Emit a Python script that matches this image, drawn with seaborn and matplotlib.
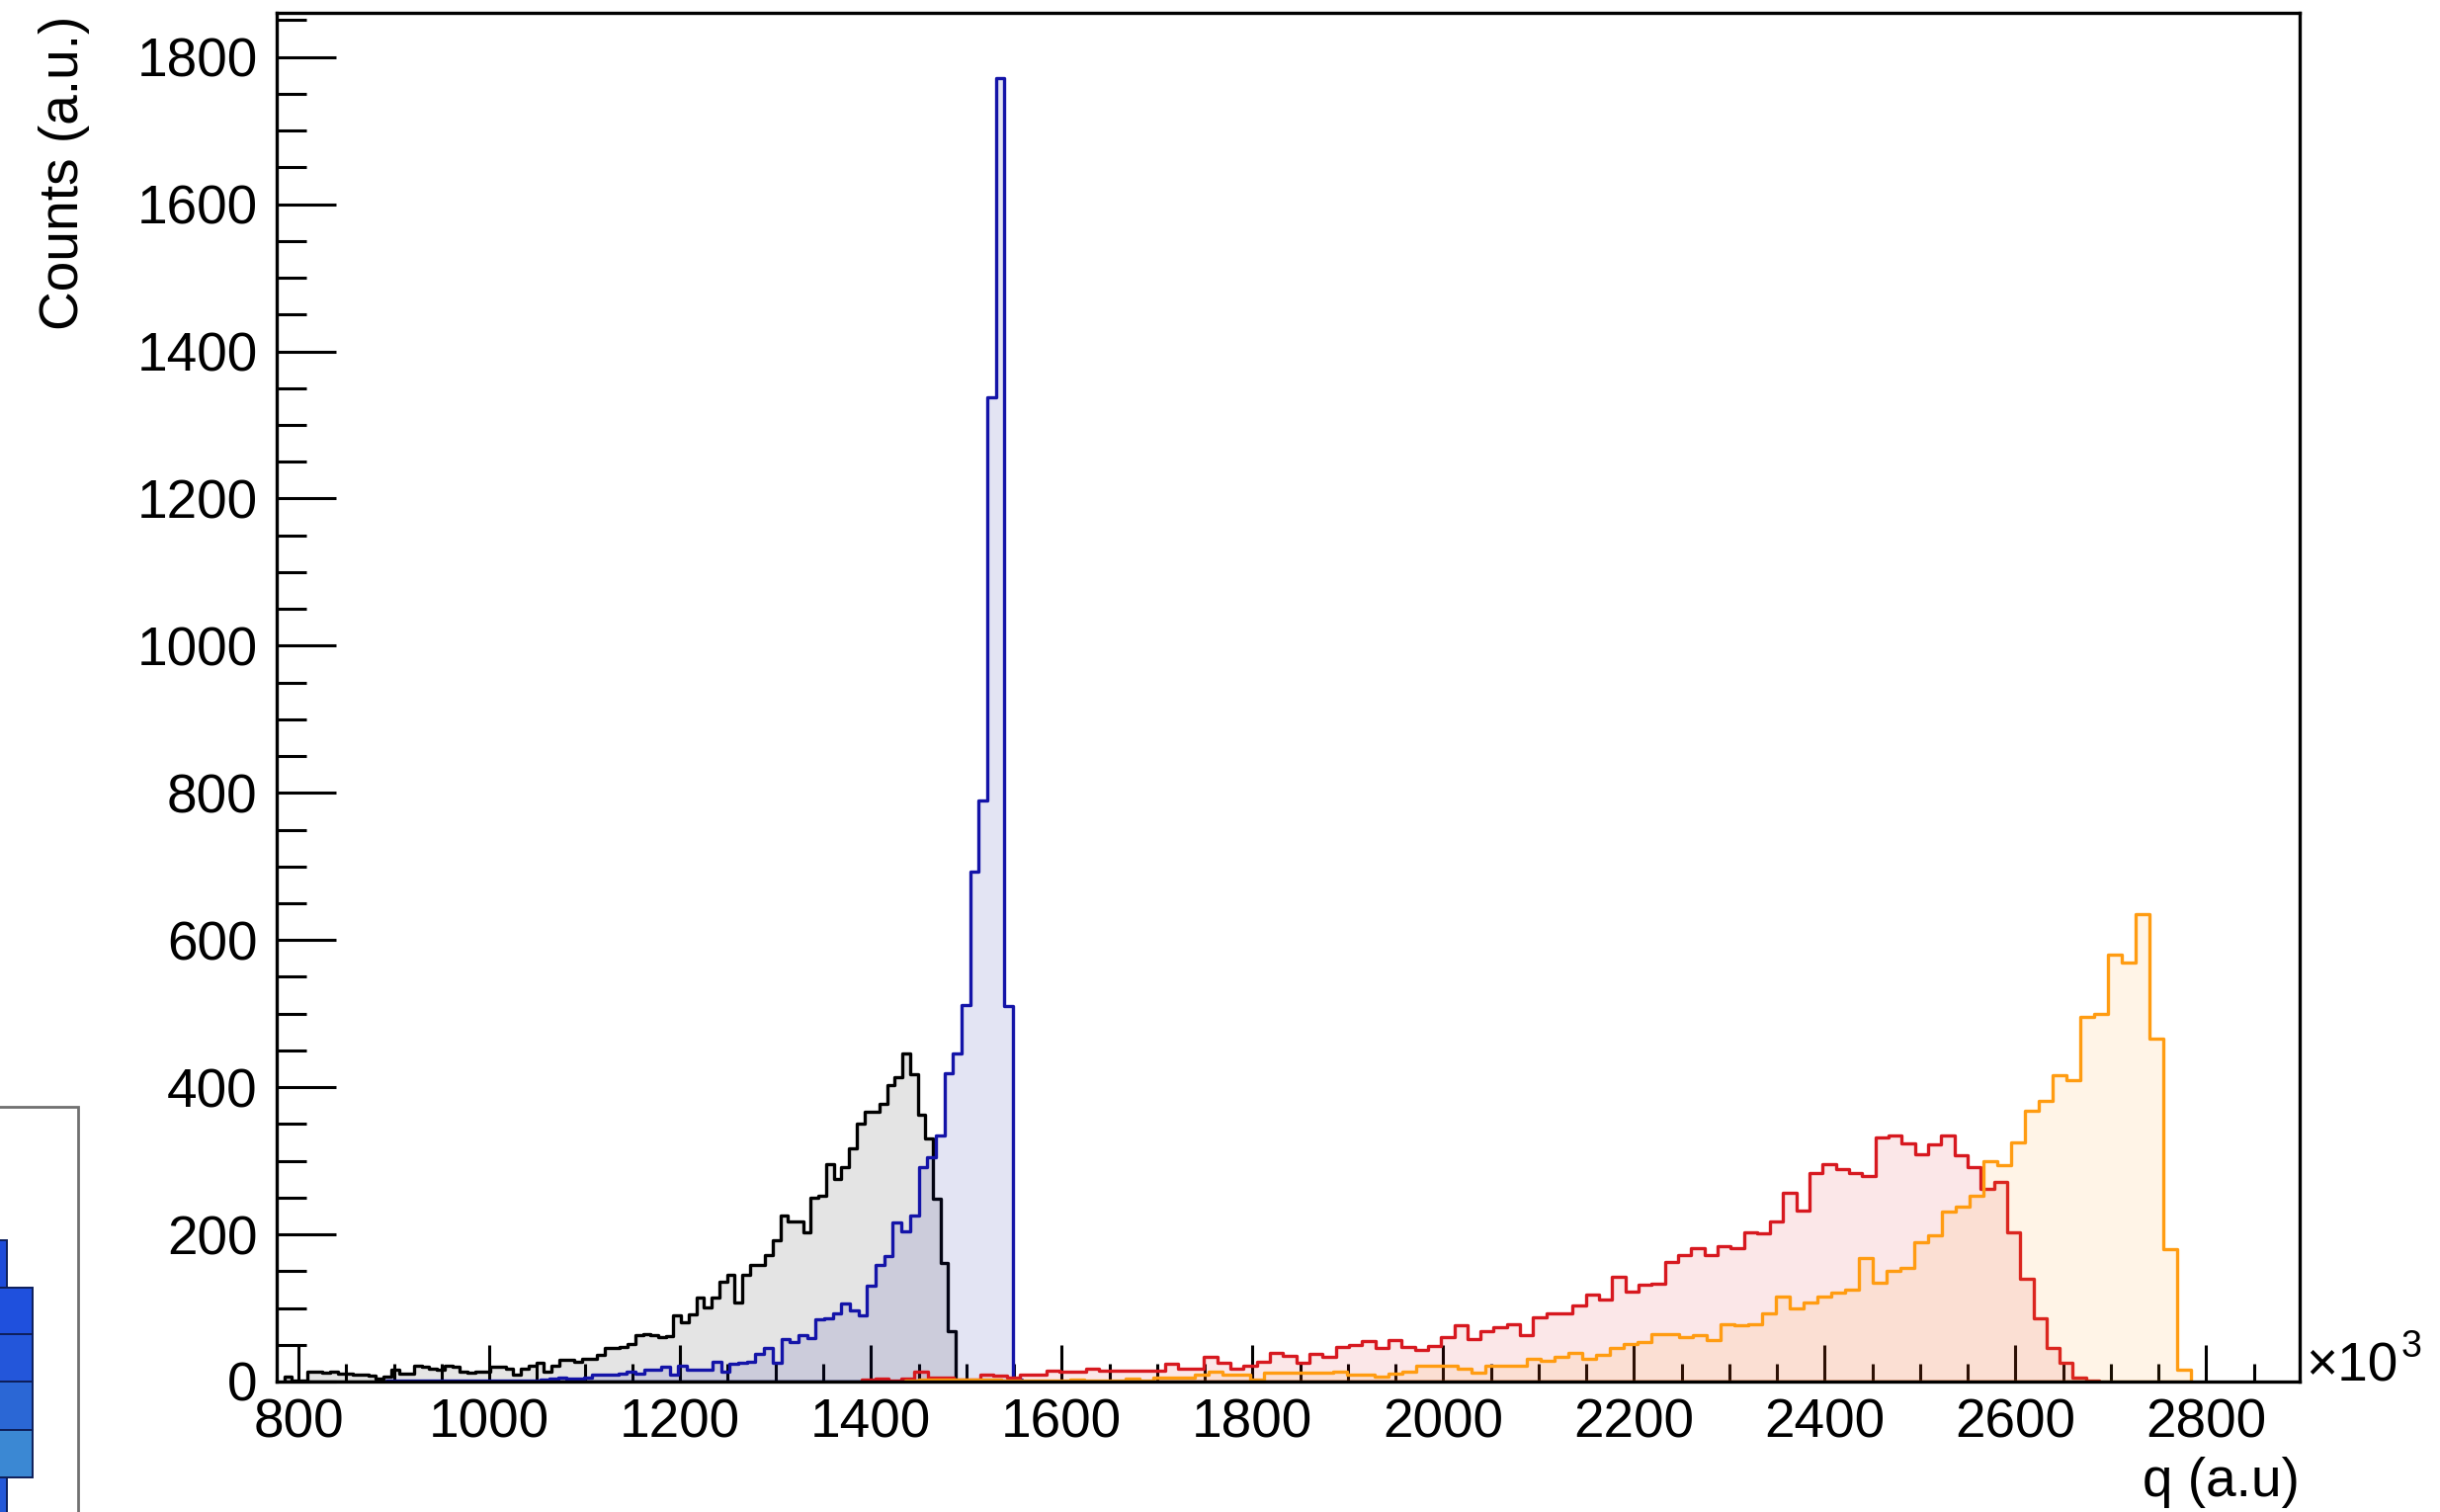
import numpy as np
import pandas as pd
import matplotlib
matplotlib.use("Agg")
import matplotlib.pyplot as plt
from matplotlib.ticker import MultipleLocator
from matplotlib.patches import Rectangle
import seaborn as sns

# ---------------- data (x in units of 10^3 a.u.) ----------------
black_counts = [7, 2, 1, 13, 13, 12, 13, 11, 11, 10,
                9, 8, 4, 7, 16, 11, 11, 22, 20, 18,
                16, 22, 20, 13, 12, 14, 13, 20, 20, 17,
                9, 18, 22, 25, 13, 22, 29, 29, 27, 31,
                31, 36, 45, 45, 47, 51, 63, 65, 63, 60,
                62, 90, 80, 91, 114, 101, 114, 136, 145, 107,
                145, 158, 158, 172, 192, 226, 217, 217, 203, 250,
                252, 295, 275, 291, 317, 351, 367, 367, 378, 403,
                414, 446, 418, 362, 331, 248, 161, 68]
black_start, black_width = 785.0, 8.0

blue_counts = [1, 1, 1, 1, 1, 1, 1, 1, 2, 1,
               2, 2, 1, 2, 2, 2, 2, 2, 3, 4,
               5, 4, 4, 5, 9, 9, 9, 11, 13, 11,
               16, 16, 20, 9, 22, 16,
               16, 16, 27, 14, 24, 26, 27, 37, 46, 26,
               58, 54, 63, 59, 84, 86, 92, 106, 97, 90,
               130, 159, 171, 216, 204, 225, 292, 305, 335, 419,
               446, 511, 693, 790, 1337, 1772, 510, 3]
blue_start, blue_width = 892.0, 9.0

red_counts = [3, 4, 2, 4, 13, 5, 5, 3, 3, 10,
              8, 5, 9, 9, 15, 13, 13, 17, 15, 15,
              15, 15, 15, 24, 18, 18, 33, 25, 18, 22,
              27, 39, 35, 25, 37, 34, 47, 50, 55, 46,
              56, 47, 43, 49, 60, 76, 58, 69, 74, 78,
              63, 87, 93, 93, 104, 118, 112, 142, 122, 131,
              133, 163,
              172, 181, 172, 184, 181, 203, 201, 217, 257, 232,
              283, 295, 289, 283, 280, 332, 334, 324, 309, 322,
              335, 307, 291, 262, 271, 203, 140, 86, 45, 26,
              6, 1]
red_start, red_width = 1390.6, 13.8

orange_counts = [2, 3, 3, 3, 3, 3, 3, 2, 2, 2,
                 1, 1, 3, 2, 2, 2, 4, 1, 5, 5,
                 5, 9, 13, 9, 9, 3, 12, 12, 12, 12,
                 12, 14, 10, 10, 7,
                 11, 13, 21, 21, 21, 17, 12, 22, 21, 21,
                 31, 28, 34, 39, 31, 36, 45, 51, 54, 65, 64,
                 60, 63, 56, 78, 76, 78, 92, 116, 99, 107,
                 116, 121, 125, 168, 134, 150, 154, 190, 199, 231,
                 238, 253,
                 300, 294, 325, 368, 382, 416, 409, 496, 500, 580,
                 570, 635, 466, 180, 16]
orange_start, orange_width = 1435.5, 14.5

x_major_ticks = [800, 1000, 1200, 1400, 1600, 1800, 2000, 2200, 2400, 2600, 2800]
y_major_ticks = [0, 200, 400, 600, 800, 1000, 1200, 1400, 1600, 1800]

# ---------------- style ----------------
sns.set_theme(style="white")
plt.rcParams['font.family'] = ['Liberation Sans', 'DejaVu Sans']
plt.rcParams['text.color'] = 'black'
plt.rcParams['axes.labelcolor'] = 'black'
plt.rcParams['xtick.color'] = 'black'
plt.rcParams['ytick.color'] = 'black'
plt.rcParams['xtick.labelcolor'] = 'black'
plt.rcParams['ytick.labelcolor'] = 'black'

W, H = 2469, 1530
fig = plt.figure(figsize=(W / 100, H / 100), dpi=100)
ax = fig.add_axes([280 / W, 1 - 1398 / H, (2327 - 280) / W, (1398 - 13) / H])

series = [
    (black_counts, black_start, black_width, '#000000', (0.0, 0.0, 0.0, 0.105)),
    (blue_counts, blue_start, blue_width, '#1414a8', (0.12, 0.14, 0.62, 0.12)),
    (red_counts, red_start, red_width, '#d71920', (0.86, 0.10, 0.14, 0.10)),
    (orange_counts, orange_start, orange_width, '#ff9c12', (1.0, 0.60, 0.10, 0.10)),
]
for counts, start, width, lc, fc in series:
    n = len(counts)
    edges = [start + width * i for i in range(n + 1)]
    df = pd.DataFrame({"q": [e + width / 2 for e in edges[:-1]], "n": counts})
    sns.histplot(data=df, x="q", weights="n", bins=edges, element='step', fill=True,
                 color=lc, facecolor=fc, edgecolor=lc, linewidth=2.4, ax=ax)

ax.set_xlabel('')
ax.set_ylabel('')
ax.set_xlim(777, 2898)
ax.set_ylim(0, 1860)
ax.set_xticks(x_major_ticks)
ax.set_yticks(y_major_ticks)
ax.xaxis.set_minor_locator(MultipleLocator(50))
ax.yaxis.set_minor_locator(MultipleLocator(50))
ax.grid(False)

fs = 39.6
ax.tick_params(axis='x', which='major', direction='in', length=27, width=2.2,
               labelsize=fs, pad=12, top=False, bottom=True, color='black', labelcolor='black')
ax.tick_params(axis='x', which='minor', direction='in', length=13, width=2.2,
               top=False, bottom=True, color='black')
ax.tick_params(axis='y', which='major', direction='in', length=43, width=2.2,
               labelsize=fs, pad=14, left=True, right=False, color='black', labelcolor='black')
ax.tick_params(axis='y', which='minor', direction='in', length=21.5, width=2.2,
               left=True, right=False, color='black')
for s in ax.spines.values():
    s.set_visible(True)
    s.set_color('black')
    s.set_linewidth(2.4)

# axis titles and exponent
fig.text(65 / W, 1 - 16 / H, "Counts (a.u.)", rotation=90, ha='center', va='top',
         fontsize=fs, color='black')
fig.text(2327 / W, 1 - 1500 / H, "q (a.u)", ha='right', va='center', fontsize=fs, color='black')
fig.text(2333 / W, 1 - 1398 / H, "\u00d710", ha='left', va='baseline', fontsize=fs, color='black')
fig.text(2430 / W, 1 - 1373 / H, "3", ha='left', va='baseline', fontsize=27, color='black')

# partial neighbouring panel at bottom-left
fig.add_artist(Rectangle((-10 / W, -10 / H), 89 / W, (1530 - 1120 + 10) / H,
                         transform=fig.transFigure, fill=False,
                         edgecolor='#707070', linewidth=2.0))
blocks = [
    (-5, 1255, 7, 1303, '#1d4bd9'),
    (-5, 1303, 33, 1350, '#1f50dd'),
    (-5, 1350, 33, 1398, '#2356da'),
    (-5, 1398, 33, 1447, '#2b67d5'),
    (-5, 1447, 33, 1495, '#3b88d3'),
    (-5, 1495, 7, 1540, '#2458d8'),
]
for x0, y0, x1, y1, c in blocks:
    fig.add_artist(Rectangle((x0 / W, 1 - y1 / H), (x1 - x0) / W, (y1 - y0) / H,
                             transform=fig.transFigure, facecolor=c,
                             edgecolor='#0e1f5a', linewidth=1.4))

fig.savefig("out.png", dpi=100)
